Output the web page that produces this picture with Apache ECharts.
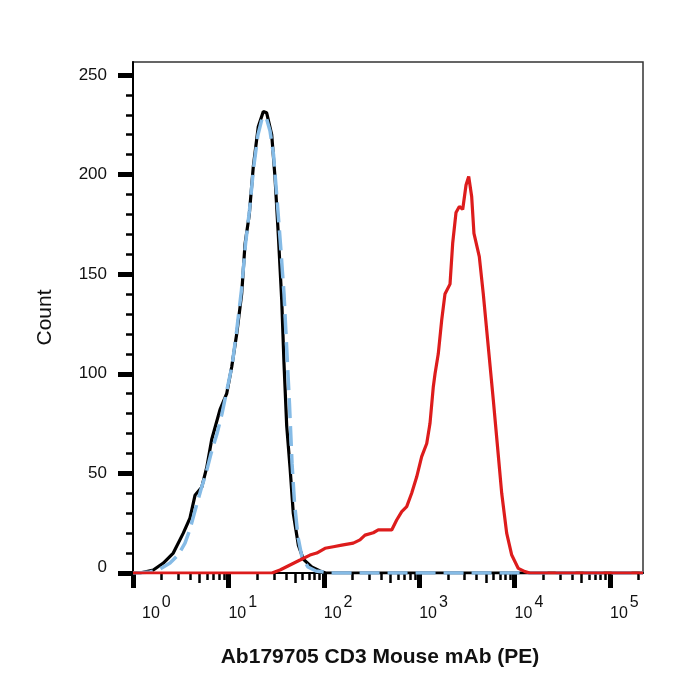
<!DOCTYPE html>
<html>
<head>
<meta charset="utf-8">
<script src="https://cdn.jsdelivr.net/npm/echarts@6/dist/echarts.min.js"></script>
<style>
  html, body { margin: 0; padding: 0; background: #fff; }
  #chart { width: 700px; height: 700px; }
</style>
</head>
<body>
<div id="chart"></div>
<script>
// x values are in decades (log10 of fluorescence), y is cell count
const X_MAX = 5.346
const Y_MAX = 256.5

const X_MAJOR = [0, 1, 2, 3, 4, 5]
const Y_MAJOR = [0, 50, 100, 150, 200, 250]
const Y_MINOR = [10, 20, 30, 40, 60, 70, 80, 90, 110, 120, 130, 140, 160, 170, 180, 190, 210, 220, 230, 240]

// unstained / isotype control (black)
const controlData = [
  [0, 0], [0.073, 0], [0.213, 1.5], [0.318, 5], [0.422, 10], [0.527, 20],
  [0.597, 27.5], [0.650, 39], [0.720, 43], [0.773, 53], [0.825, 67],
  [0.912, 82], [0.982, 90], [1.035, 103.5], [1.087, 120], [1.139, 140],
  [1.174, 165], [1.219, 180], [1.261, 204], [1.313, 224], [1.366, 231.6],
  [1.401, 231], [1.454, 220], [1.488, 199], [1.523, 170], [1.559, 137],
  [1.583, 105], [1.611, 74], [1.646, 53], [1.680, 30], [1.733, 14],
  [1.785, 7], [1.873, 3], [1.960, 1], [2.020, 0], [X_MAX, 0]
]

// second control (light blue dashed)
const isotypeData = [
  [0, 0], [0.042, 0], [0.178, 0.5], [0.283, 2], [0.388, 5], [0.472, 9],
  [0.545, 15], [0.597, 22], [0.660, 33], [0.713, 42], [0.765, 50],
  [0.818, 60], [0.881, 70], [0.933, 80], [0.985, 92], [1.038, 104],
  [1.085, 121], [1.137, 142], [1.179, 165], [1.221, 182], [1.263, 203],
  [1.310, 220], [1.352, 228], [1.394, 229], [1.436, 222], [1.473, 210],
  [1.509, 188], [1.546, 165], [1.583, 140], [1.614, 110], [1.640, 85],
  [1.667, 55], [1.693, 35], [1.730, 18], [1.771, 8], [1.834, 3],
  [1.918, 1], [2.065, 0], [X_MAX, 0]
]

// CD3 stained (red)
const cd3Data = [
  [0, 0], [1.457, 0], [1.541, 1.5], [1.646, 4], [1.751, 6.5], [1.855, 9],
  [1.926, 10], [2.013, 12.4], [2.100, 13.2], [2.188, 14], [2.309, 15],
  [2.379, 16.6], [2.432, 19], [2.519, 20.2], [2.571, 21.6], [2.712, 21.6],
  [2.764, 26.6], [2.817, 30.8], [2.869, 33.3], [2.921, 40], [2.974, 48.3],
  [3.026, 58.4], [3.079, 65], [3.113, 75], [3.148, 93.5], [3.166, 100],
  [3.200, 110], [3.236, 127], [3.270, 140], [3.323, 145], [3.351, 165.5],
  [3.386, 181], [3.421, 184], [3.456, 182.5], [3.491, 194.8], [3.519, 199],
  [3.550, 189], [3.574, 170.5], [3.630, 158.8], [3.672, 140], [3.724, 113.6],
  [3.777, 86.8], [3.818, 65], [3.865, 40], [3.917, 20], [3.970, 9],
  [4.039, 2.3], [4.109, 0.7], [4.161, 0], [X_MAX, 0]
]

const X_TITLE = "Ab179705 CD3 Mouse mAb (PE)"
const Y_TITLE = "Count"

// log-decade minor tick positions (2..9 within each decade), 5 gets a longer tick
const X_MINOR = []
const X_MID = []
for (const d of X_MAJOR) {
  for (let k = 2; k <= 9; k++) {
    const v = d + Math.log10(k)
    if (v >= X_MAX) continue
    if (k === 5) X_MID.push(v)
    else X_MINOR.push(v)
  }
}

const FONT = "Liberation Sans, Arial, Helvetica, sans-serif"

const chart = echarts.init(document.getElementById("chart"), null, { renderer: "canvas" })

const tickOnlyX = (values, len, width) => ({
  type: "value",
  min: 0,
  max: X_MAX,
  position: "bottom",
  axisLine: { show: false },
  splitLine: { show: false },
  axisLabel: { show: false },
  axisTick: { show: true, customValues: values, length: len, lineStyle: { color: "#000", width } },
})

chart.setOption({
  animation: false,
  grid: {
    left: 133, right: 57, top: 62, bottom: 127,
    show: true, borderColor: "#333", borderWidth: 1.5, backgroundColor: "transparent",
  },
  xAxis: [
    {
      type: "value",
      min: 0,
      max: X_MAX,
      position: "bottom",
      axisLine: { show: true, lineStyle: { color: "#000", width: 2 } },
      splitLine: { show: false },
      axisTick: { show: true, customValues: X_MAJOR, length: 15, lineStyle: { color: "#000", width: 5 } },
      axisLabel: {
        customValues: X_MAJOR,
        margin: 22,
        align: "left",
        hideOverlap: false,
        formatter: (v) => {
          const n = Math.round(v)
          return `{${n === 0 ? "b0" : "b"}|10}{e|${n}}`
        },
        rich: {
          b: { fontFamily: FONT, fontSize: 16, color: "#111", verticalAlign: "bottom" },
          b0: { fontFamily: FONT, fontSize: 16, color: "#111", verticalAlign: "bottom", padding: [0, 0, 0, 9] },
          e: { fontFamily: FONT, fontSize: 16, color: "#111", padding: [0, 0, 11, 2] },
        },
      },
    },
    tickOnlyX(X_MINOR, 7, 2.5),
    tickOnlyX(X_MID, 10, 2.5),
  ],
  yAxis: [
    {
      type: "value",
      min: 0,
      max: Y_MAX,
      position: "left",
      name: Y_TITLE,
      nameLocation: "middle",
      nameRotate: 90,
      nameGap: 77,
      nameTextStyle: { fontFamily: FONT, fontSize: 21, color: "#111" },
      axisLine: { show: true, lineStyle: { color: "#000", width: 2 } },
      splitLine: { show: false },
      axisTick: { show: true, customValues: Y_MAJOR, length: 15, lineStyle: { color: "#000", width: 5 } },
      axisLabel: {
        customValues: Y_MAJOR,
        margin: 26,
        fontFamily: FONT,
        fontSize: 17,
        color: "#111",
        formatter: (v) => (v === 0 ? "{z|0}" : String(v)),
        rich: { z: { fontFamily: FONT, fontSize: 17, color: "#111", padding: [0, 0, 12, 0] } },
      },
    },
    {
      type: "value",
      min: 0,
      max: Y_MAX,
      position: "left",
      axisLine: { show: false },
      splitLine: { show: false },
      axisLabel: { show: false },
      axisTick: { show: true, customValues: Y_MINOR, length: 7, lineStyle: { color: "#000", width: 2.5 } },
    },
  ],
  graphic: [
    {
      type: "text",
      x: 380,
      y: 657,
      style: {
        text: X_TITLE,
        font: `bold 21px ${FONT}`,
        fill: "#111",
        textAlign: "center",
        textVerticalAlign: "middle",
      },
    },
  ],
  series: [
    {
      name: "control",
      type: "line",
      data: controlData,
      showSymbol: false,
      lineStyle: { color: "#000", width: 3.2 },
      z: 3,
    },
    {
      name: "isotype",
      type: "line",
      data: isotypeData,
      showSymbol: false,
      lineStyle: { color: "#85bbe6", width: 3.5, type: [20, 8] },
      z: 4,
    },
    {
      name: "CD3",
      type: "line",
      data: cd3Data,
      showSymbol: false,
      lineStyle: { color: "#dd1c1c", width: 3.2 },
      z: 5,
    },
  ],
})
</script>
</body>
</html>
